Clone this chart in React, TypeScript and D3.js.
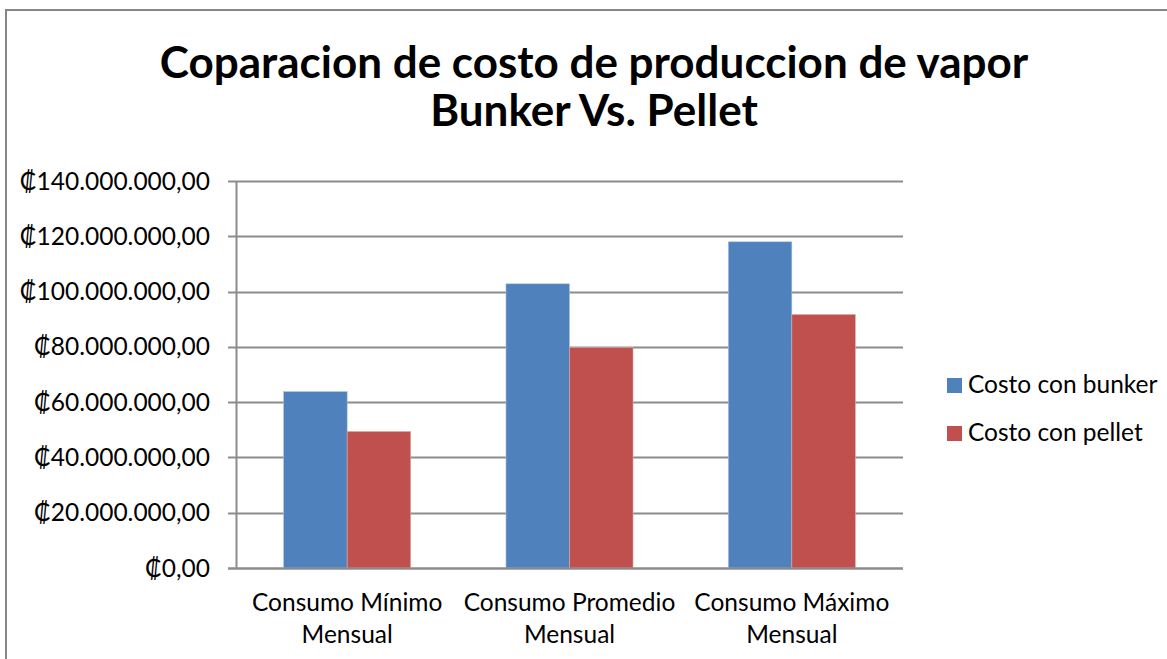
import React, { useRef, useEffect } from 'react';
import * as d3 from 'd3';

// Datos del gráfico
const categories = ['Consumo Mínimo Mensual', 'Consumo Promedio Mensual', 'Consumo Máximo Mensual'];
const seriesNames = ['Costo con bunker', 'Costo con pellet'];
const bunkerCost = [63.8e6, 102.8e6, 118.0e6];
const pelletCost = [49.4e6, 79.7e6, 91.7e6];
const yTicks = [0, 20e6, 40e6, 60e6, 80e6, 100e6, 120e6, 140e6];
const titleLines = ['Coparacion de costo de produccion de vapor', 'Bunker Vs. Pellet'];

const colors = ['#4F81BD', '#C0504D'];
const FONT = 'Lato, "Open Sans", "DejaVu Sans", sans-serif';
const LABEL_SIZE = '24.5px';

// formato tipo Excel: ₡140.000.000,00
const fmtColon = (v: number) => {
  const s = d3.format(',.2f')(v);
  return '₡' + s.replace(/,/g, '#').replace('.', ',').replace(/#/g, '.');
};

export default function App() {
  const svgRef = useRef<SVGSVGElement>(null);

  useEffect(() => {
    if (!svgRef.current) return;
    const svg = d3.select(svgRef.current);
    svg.selectAll('*').remove();

    const width = 1167;
    const height = 659;
    const plot = { left: 236, right: 903, top: 181, bottom: 568 };

    svg.append('rect')
      .attr('x', 0).attr('y', 0)
      .attr('width', width).attr('height', height)
      .attr('fill', '#fff');

    // marco del gráfico
    svg.append('rect')
      .attr('x', 6).attr('y', 10)
      .attr('width', 1300).attr('height', 800)
      .attr('fill', 'none')
      .attr('stroke', '#868686')
      .attr('stroke-width', 2);

    // título
    svg.append('text')
      .attr('x', 594)
      .attr('text-anchor', 'middle')
      .style('font-family', FONT)
      .style('font-weight', 'bold')
      .style('font-size', '44px')
      .attr('fill', '#000')
      .selectAll('tspan')
      .data(titleLines)
      .enter()
      .append('tspan')
      .attr('x', 594)
      .attr('y', (d, i) => 78 + i * 48)
      .text(d => d);

    const y = d3.scaleLinear().domain([0, 140e6]).range([plot.bottom, plot.top]);
    const x0 = d3.scaleBand<string>().domain(categories).range([plot.left, plot.right]);
    const x1 = d3.scaleBand<string>()
      .domain(seriesNames)
      .range([0, x0.bandwidth()])
      .paddingInner(0)
      .paddingOuter(0.75);

    // líneas de cuadrícula
    svg.append('g')
      .selectAll('line')
      .data(yTicks)
      .enter()
      .append('line')
      .attr('x1', plot.left - 8)
      .attr('x2', plot.right)
      .attr('y1', d => Math.round(y(d)) + 0.5)
      .attr('y2', d => Math.round(y(d)) + 0.5)
      .attr('stroke', '#8c8c8c')
      .attr('stroke-width', 2);

    // eje vertical
    svg.append('line')
      .attr('x1', plot.left + 0.5).attr('x2', plot.left + 0.5)
      .attr('y1', plot.top).attr('y2', plot.bottom)
      .attr('stroke', '#8c8c8c')
      .attr('stroke-width', 2);

    // etiquetas del eje Y
    svg.append('g')
      .selectAll('text')
      .data(yTicks)
      .enter()
      .append('text')
      .attr('x', 210)
      .attr('y', d => y(d))
      .attr('dy', '0.35em')
      .attr('text-anchor', 'end')
      .style('font-family', FONT)
      .style('font-size', LABEL_SIZE)
      .attr('fill', '#000')
      .text(d => fmtColon(d));

    // barras
    const rows = categories.map((c, i) => ({ cat: c, values: [bunkerCost[i], pelletCost[i]] }));
    const groups = svg.append('g')
      .selectAll('g')
      .data(rows)
      .enter()
      .append('g')
      .attr('transform', d => `translate(${x0(d.cat)},0)`);

    groups.selectAll('rect')
      .data(d => d.values.map((v, j) => ({ name: seriesNames[j], v, j })))
      .enter()
      .append('rect')
      .attr('x', d => x1(d.name)!)
      .attr('width', x1.bandwidth())
      .attr('y', d => y(d.v))
      .attr('height', d => y(0) - y(d.v))
      .attr('fill', d => colors[d.j])
      .attr('stroke', d => (d.j === 0 ? '#a9c0e0' : '#e2a9a7'))
      .attr('stroke-width', 0.6);

    // línea base
    svg.append('line')
      .attr('x1', plot.left - 8).attr('x2', plot.right)
      .attr('y1', Math.round(y(0)) + 0.5).attr('y2', Math.round(y(0)) + 0.5)
      .attr('stroke', '#8c8c8c')
      .attr('stroke-width', 2);

    // etiquetas de categorías (dos líneas)
    const catLabels = svg.append('g')
      .selectAll('text')
      .data(categories)
      .enter()
      .append('text')
      .attr('text-anchor', 'middle')
      .style('font-family', FONT)
      .style('font-size', LABEL_SIZE)
      .attr('fill', '#000');

    catLabels.each(function (d) {
      const words = d.split(' ');
      const lines = [words.slice(0, 2).join(' '), words.slice(2).join(' ')];
      const cx = x0(d)! + x0.bandwidth() / 2;
      d3.select(this)
        .selectAll('tspan')
        .data(lines)
        .enter()
        .append('tspan')
        .attr('x', cx)
        .attr('y', (l, i) => 611 + i * 32)
        .text(l => l);
    });

    // leyenda
    const legend = svg.append('g')
      .selectAll('g')
      .data(seriesNames)
      .enter()
      .append('g')
      .attr('transform', (d, i) => `translate(947,${378 + i * 48})`);

    legend.append('rect')
      .attr('width', 15)
      .attr('height', 15)
      .attr('fill', (d, i) => colors[i]);

    legend.append('text')
      .attr('x', 21)
      .attr('y', 15)
      .style('font-family', FONT)
      .style('font-size', LABEL_SIZE)
      .attr('fill', '#000')
      .text(d => d);
  }, []);

  return (
    <div style={{ position: 'absolute', left: 0, top: 0, width: '1167px', height: '659px', overflow: 'hidden' }}>
      <svg ref={svgRef} width={1167} height={659} viewBox="0 0 1167 659" />
    </div>
  );
}
